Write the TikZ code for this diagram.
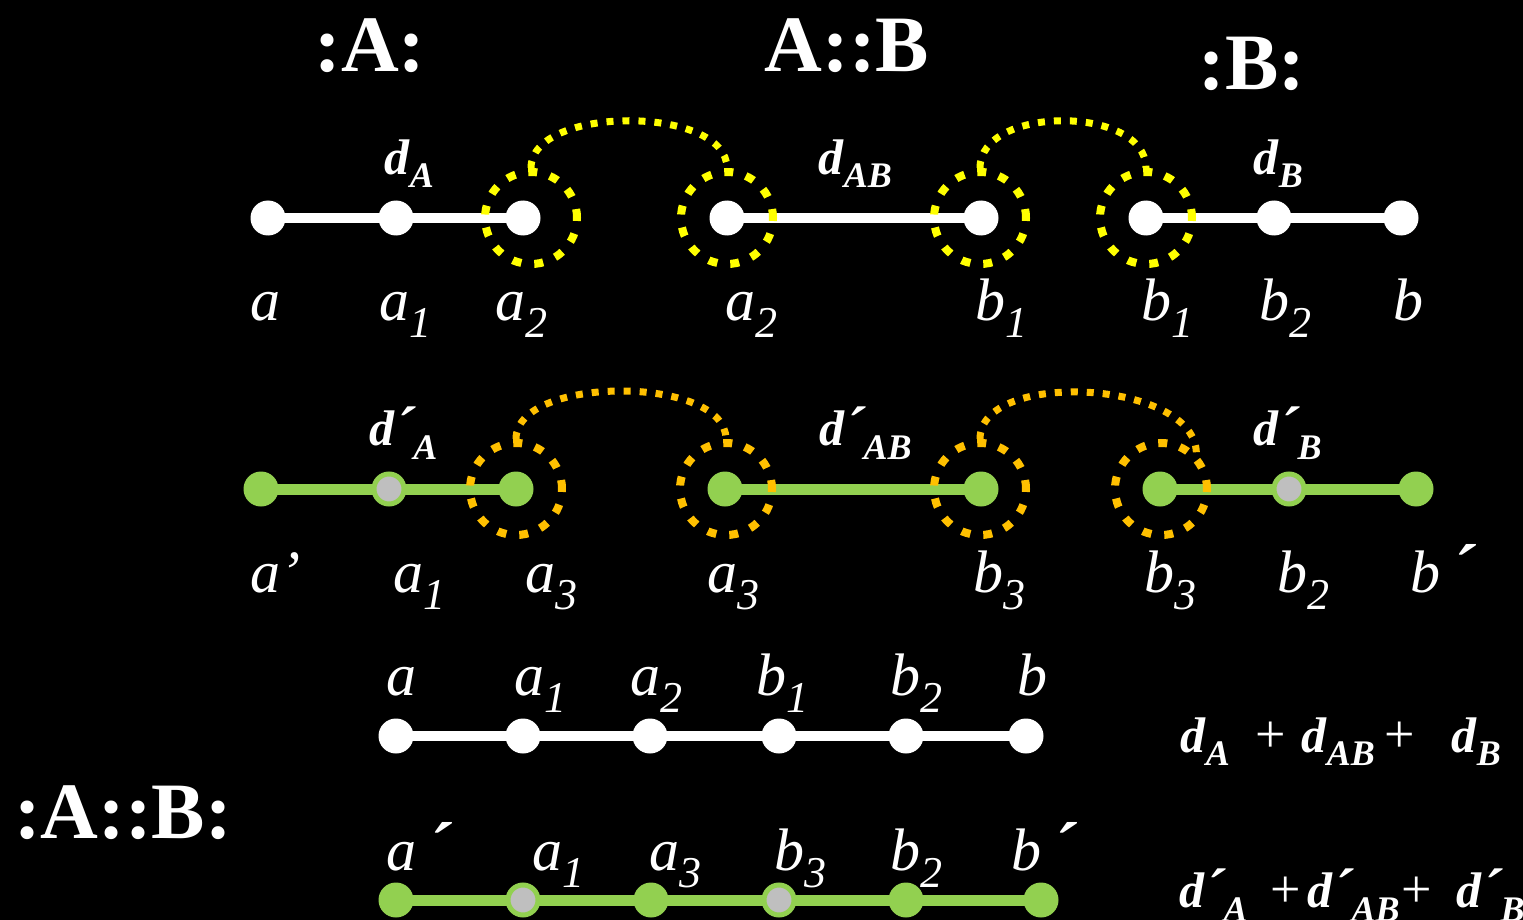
\documentclass[tikz,border=0pt]{standalone}
\usepackage{fontspec}
\setmainfont{Liberation Serif}
\usetikzlibrary{backgrounds}
\definecolor{lgreen}{HTML}{92D050}
\definecolor{lgray}{HTML}{BFBFBF}
\definecolor{dyellow}{HTML}{FFFF00}
\definecolor{dorange}{HTML}{FFC000}
\newcommand{\lb}[2]{\textit{#1}\raisebox{-17pt}{\fontsize{44}{44}\selectfont\textit{#2}}}
\newcommand{\lpr}{\raisebox{-2pt}{\fontsize{72}{72}\selectfont\textbf{\textit{´}}}}
\newcommand{\dlab}[1]{\textbf{\textit{d}}\raisebox{-13pt}{\fontsize{36}{36}\selectfont\textbf{\textit{#1}}}}
\newcommand{\dplab}[1]{\textbf{\textit{d}}\raisebox{-3pt}{\fontsize{60}{60}\selectfont\textbf{\textit{´}}}\kern-3pt\raisebox{-14pt}{\fontsize{36}{36}\selectfont\textbf{\textit{#1}}}}
\tikzset{
  wn/.style={circle, fill=white, minimum size=35pt, inner sep=0pt},
  gn/.style={circle, fill=lgreen, minimum size=35pt, inner sep=0pt},
  gy/.style={circle, fill=lgray, draw=lgreen, line width=5pt, minimum size=30pt, inner sep=0pt},
  ring/.style={circle, minimum size=92pt, inner sep=0pt, line width=8pt, dash pattern=on 9pt off 13pt},
  yring/.style={ring, draw=dyellow},
  oring/.style={ring, draw=dorange},
  yarc/.style={draw=dyellow, line width=7pt, dash pattern=on 7pt off 9pt},
  oarc/.style={draw=dorange, line width=7pt, dash pattern=on 7pt off 9pt},
  lab/.style={anchor=base west, inner sep=0pt, text=white, font=\fontsize{60}{60}\selectfont},
  dl/.style={anchor=base west, inner sep=0pt, text=white, font=\fontsize{50}{50}\selectfont},
  pl/.style={anchor=base west, inner sep=0pt, text=white, font=\fontsize{54}{54}\selectfont},
  head/.style={anchor=base, inner sep=0pt, text=white, font=\fontsize{80}{80}\selectfont\bfseries},
  wline/.style={white, line width=10pt},
  gline/.style={lgreen, line width=11pt}
}
\begin{document}
\begin{tikzpicture}[x=1pt, y=-1pt]
\useasboundingbox (0,0) rectangle (1523,920);
% headings
\node[head] (hA) at (370,72) {:A:};
\node[head] (hAB) at (847,72) {A::B};
\node[head] (hB) at (1252,90) {:B:};
\node[head] (hAAB) at (123,838) {:A::B:};
% top row
\node[wn] (t1) at (268,218) {};
\node[wn] (t2) at (396,218) {};
\node[wn] (t3) at (523,218) {};
\node[wn] (t4) at (727,218) {};
\node[wn] (t5) at (981,218) {};
\node[wn] (t6) at (1146,218) {};
\node[wn] (t7) at (1274,218) {};
\node[wn] (t8) at (1401,218) {};
\node[yring] (c1) at (531,218) {};
\node[yring] (c2) at (727,218) {};
\node[yring] (c3) at (980,218) {};
\node[yring] (c4) at (1146,218) {};
\draw[yarc] (c1.north) .. controls +(0,-63) and +(0,-63) .. (c2.north);
\draw[yarc] (c3.north) .. controls +(0,-63) and +(0,-63) .. (c4.north);
\node[dl] (dA) at (384,175) {\dlab{A}};
\node[dl] (dAB) at (818,175) {\dlab{AB}};
\node[dl] (dB) at (1253,175) {\dlab{B}};
\node[lab] (l1) at (250,320) {\textit{a}};
\node[lab] (l2) at (379,320) {\lb{a}{1}};
\node[lab] (l3) at (495,320) {\lb{a}{2}};
\node[lab] (l4) at (725,320) {\lb{a}{2}};
\node[lab] (l5) at (975,320) {\lb{b}{1}};
\node[lab] (l6) at (1141,320) {\lb{b}{1}};
\node[lab] (l7) at (1259,320) {\lb{b}{2}};
\node[lab] (l8) at (1393,320) {\textit{b}};
% second row
\node[gn] (g1) at (261,489) {};
\node[gy] (g2) at (389,489) {};
\node[gn] (g3) at (516,489) {};
\node[gn] (g4) at (725,489) {};
\node[gn] (g5) at (981,489) {};
\node[gn] (g6) at (1160,489) {};
\node[gy] (g7) at (1289,489) {};
\node[gn] (g8) at (1416,489) {};
\node[oring] (o1) at (516,489) {};
\node[oring] (o2) at (726,489) {};
\node[oring] (o3) at (980,489) {};
\node[oring] (o4) at (1161,489) {};
\draw[oarc] (o1.north) .. controls +(0,-64) and +(0,-64) .. (o2.north);
\draw[oarc] (o3.north) .. controls +(0,-70) and +(0,-74) .. (o4.north east);
\node[dl] (dpA) at (369,445) {\dplab{A}};
\node[dl] (dpAB) at (819,445) {\dplab{AB}};
\node[dl] (dpB) at (1253,445) {\dplab{B}};
\node[lab] (m1) at (250,592) {\textit{a’}};
\node[lab] (m2) at (393,592) {\lb{a}{1}};
\node[lab] (m3) at (525,592) {\lb{a}{3}};
\node[lab] (m4) at (707,592) {\lb{a}{3}};
\node[lab] (m5) at (973,592) {\lb{b}{3}};
\node[lab] (m6) at (1144,592) {\lb{b}{3}};
\node[lab] (m7) at (1277,592) {\lb{b}{2}};
\node[lab] (m8) at (1410,592) {\textit{b}\,\lpr};
% third row
\node[wn] (r1) at (396,736) {};
\node[wn] (r2) at (523,736) {};
\node[wn] (r3) at (650,736) {};
\node[wn] (r4) at (779,736) {};
\node[wn] (r5) at (906,736) {};
\node[wn] (r6) at (1026,736) {};
\node[lab] (n1) at (386,695) {\textit{a}};
\node[lab] (n2) at (514,695) {\lb{a}{1}};
\node[lab] (n3) at (630,695) {\lb{a}{2}};
\node[lab] (n4) at (756,695) {\lb{b}{1}};
\node[lab] (n5) at (890,695) {\lb{b}{2}};
\node[lab] (n6) at (1017,695) {\textit{b}};
% fourth row
\node[gn] (s1) at (396,900) {};
\node[gy] (s2) at (523,900) {};
\node[gn] (s3) at (651,900) {};
\node[gy] (s4) at (779,900) {};
\node[gn] (s5) at (906,900) {};
\node[gn] (s6) at (1041,900) {};
\node[lab] (k1) at (386,870) {\textit{a}\,\lpr};
\node[lab] (k2) at (532,870) {\lb{a}{1}};
\node[lab] (k3) at (649,870) {\lb{a}{3}};
\node[lab] (k4) at (774,870) {\lb{b}{3}};
\node[lab] (k5) at (890,870) {\lb{b}{2}};
\node[lab] (k6) at (1011,870) {\textit{b}\,\lpr};
% formulas
\node[dl] (f1) at (1180,752) {\dlab{A}};
\node[pl] (f2) at (1255,752) {+};
\node[dl] (f3) at (1301,752) {\dlab{AB}};
\node[pl] (f4) at (1384,752) {+};
\node[dl] (f5) at (1451,752) {\dlab{B}};
\node[dl] (e1) at (1179,907) {\dplab{A}};
\node[pl] (e2) at (1270,907) {+};
\node[dl] (e3) at (1307,907) {\dplab{AB}};
\node[pl] (e4) at (1401,907) {+};
\node[dl] (e5) at (1456,907) {\dplab{B}};
\begin{pgfonlayer}{background}
\fill[black] (0,0) rectangle (1523,920);
\draw[wline] (t1.center) -- (t3.center);
\draw[wline] (t4.center) -- (t5.center);
\draw[wline] (t6.center) -- (t8.center);
\draw[gline] (g1.center) -- (g3.center);
\draw[gline] (g4.center) -- (g5.center);
\draw[gline] (g6.center) -- (g8.center);
\draw[wline] (r1.center) -- (r6.center);
\draw[gline] (s1.center) -- (s6.center);
\end{pgfonlayer}
\end{tikzpicture}
\end{document}
